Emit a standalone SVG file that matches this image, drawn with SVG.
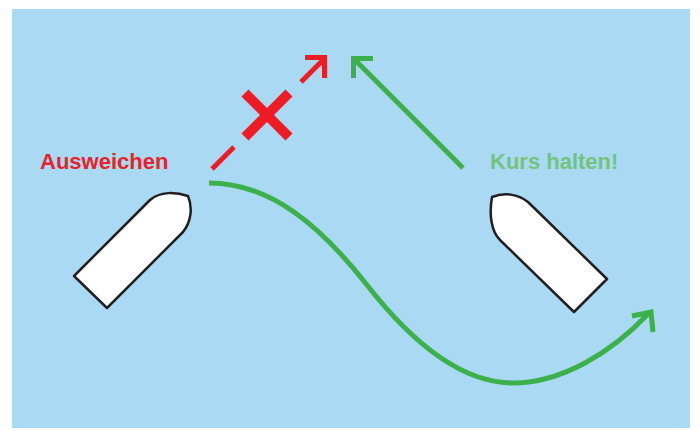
<svg xmlns="http://www.w3.org/2000/svg" width="700" height="430" viewBox="0 0 700 430">
  <style>
    .water { fill: #aadaf3; }
    .boat { fill: #ffffff; stroke: #231f20; stroke-width: 2.5; stroke-linejoin: round; }
    .red { fill: none; stroke: #ed1c24; stroke-width: 5; stroke-linecap: butt; }
    .cross { fill: none; stroke: #ed1c24; stroke-width: 10; }
    .green { fill: none; stroke: #3cb04a; stroke-width: 5; }
    .label { font-family: "Liberation Sans", Arial, sans-serif; font-weight: bold; font-size: 22px; }
  </style>

  <rect class="water" x="12" y="9" width="678" height="419"/>

  <!-- give-way vessel (left) -->
  <g id="boat-left">
    <path class="boat" d="M74,276 L150,200 C160,191 176,192 188,196 C193,208 191,222 183,232 L107,308 Z"/>
  </g>

  <!-- stand-on vessel (right) -->
  <g id="boat-right">
    <path class="boat" d="M528,202 L607,279 L574,312 L500,240 C491,231 489,214 492,197 C504,192 518,194 528,202 Z"/>
  </g>

  <g id="label-left">
    <text class="label" x="40" y="169" fill="#e8212b">Ausweichen</text>
  </g>
  <g id="label-right">
    <text class="label" x="490" y="169" fill="#74c27b">Kurs halten!</text>
  </g>

  <g id="connectors">
    <!-- forbidden straight course -->
    <line class="red" x1="212" y1="169" x2="234" y2="147"/>
    <line class="red" x1="301" y1="82" x2="323" y2="60"/>
    <polyline class="red" points="305,57.5 324.5,57.5 324.5,78"/>
    <g id="cross">
      <line class="cross" x1="245" y1="93" x2="289" y2="137"/>
      <line class="cross" x1="245" y1="137" x2="289" y2="93"/>
    </g>

    <!-- stand-on vessel keeps course -->
    <line class="green" x1="463" y1="168" x2="356" y2="61"/>
    <polyline class="green" points="373,58.5 353.5,58.5 353.5,78"/>

    <!-- evasive manoeuvre -->
    <path class="green" d="M209,183 C270,183 320,225 367,285 C410,340 460,383 513,383 C562,383 612,352 648,314"/>
    <polyline class="green" points="632,316 651,312 653,332"/>
  </g>
</svg>
